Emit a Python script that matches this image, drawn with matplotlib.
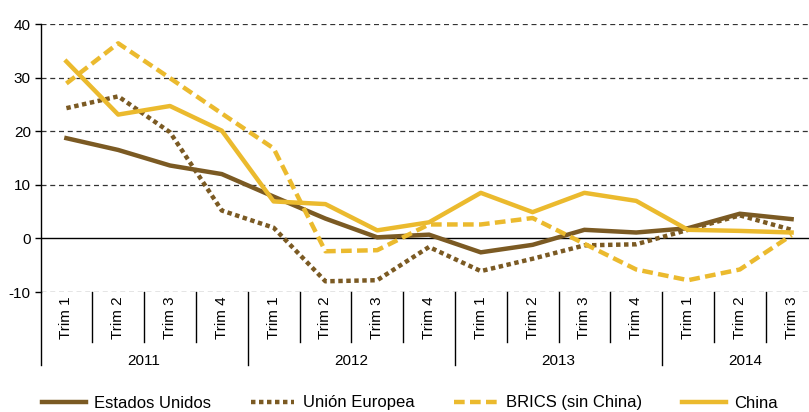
import matplotlib
matplotlib.use("Agg")
import matplotlib.pyplot as plt
import matplotlib.transforms as mtransforms

plt.rcParams['font.family'] = ['Liberation Sans', 'DejaVu Sans']
plt.rcParams['axes.unicode_minus'] = False

# data
years = ["2011", "2012", "2013", "2014"]
quarters = ["Trim 1", "Trim 2", "Trim 3", "Trim 4",
            "Trim 1", "Trim 2", "Trim 3", "Trim 4",
            "Trim 1", "Trim 2", "Trim 3", "Trim 4",
            "Trim 1", "Trim 2", "Trim 3"]
estados_unidos = [18.7, 16.5, 13.6, 12.0, 7.8, 3.7, 0.2, 0.7, -2.6, -1.2, 1.6, 1.1, 1.9, 4.6, 3.6]
union_europea = [24.3, 26.5, 19.8, 5.2, 2.0, -8.0, -7.8, -1.6, -6.1, -3.8, -1.3, -1.1, 1.6, 4.3, 1.6]
brics = [28.9, 36.4, 29.9, 23.3, 16.8, -2.4, -2.2, 2.6, 2.6, 3.8, -1.0, -5.8, -7.8, -5.8, 0.6]
china = [33.0, 23.1, 24.7, 20.1, 6.9, 6.4, 1.5, 3.0, 8.5, 4.9, 8.5, 7.0, 1.6, 1.4, 1.1]
y_ticks = [-10, 0, 10, 20, 30, 40]

brown = "#7B5A23"
yellow = "#EBBA2E"

fig = plt.figure(figsize=(8.09, 4.12), dpi=100)
ax = fig.add_axes([40.5 / 809, 120 / 412, 777 / 809, 268 / 412])

x = list(range(len(quarters)))

# grid lines
for v in y_ticks:
    if v == 0:
        ax.axhline(v, color="black", lw=1.0, zorder=1)
    else:
        ax.axhline(v, color="#333333", lw=0.9, ls=(0, (4, 3)), zorder=1)

ax.plot(x, estados_unidos, color=brown, lw=3.2, solid_joinstyle="miter",
        label="Estados Unidos", zorder=3)
ax.plot(x, union_europea, color=brown, lw=3.2, ls=(0, (1, 0.8)),
        dash_capstyle="butt", label="Unión Europea", zorder=3)
ax.plot(x, brics, color=yellow, lw=3.2, ls=(0, (2.4, 1.2)),
        dash_capstyle="butt", label="BRICS (sin China)", zorder=3)
ax.plot(x, china, color=yellow, lw=3.2, label="China", zorder=4)

ax.set_xlim(-0.5, len(quarters) - 0.5)
ax.set_ylim(-10, 40)
ax.set_yticks(y_ticks)
ax.set_xticks([])
ax.tick_params(axis="y", length=4, width=1, pad=3, labelsize=11)

for s in ["top", "right", "bottom"]:
    ax.spines[s].set_visible(False)
ax.spines["left"].set_linewidth(1.0)

# category axis drawn below the plot
trans = mtransforms.blended_transform_factory(ax.transData, ax.transAxes)
for i in range(1, len(quarters)):
    if i % 4 == 0:
        ax.plot([i - 0.5, i - 0.5], [0, -0.272], transform=trans, color="black",
                lw=1.0, clip_on=False)
    else:
        ax.plot([i - 0.5, i - 0.5], [0, -0.187], transform=trans, color="black",
                lw=1.0, clip_on=False)
ax.plot([-0.5, -0.5], [0, -0.272], transform=trans, color="black", lw=1.0, clip_on=False)

for i, q in enumerate(quarters):
    ax.text(i, -0.097, q, transform=trans, rotation=90, ha="center", va="center",
            fontsize=11)

year_centers = [1.5, 5.5, 9.5, 13.1]
for xc, yr in zip(year_centers, years):
    ax.text(xc, -0.257, yr, transform=trans, ha="center", va="center", fontsize=11)

fig.legend(loc="center", bbox_to_anchor=(410 / 809, 9 / 412), ncol=4, frameon=False,
           handlelength=2.6, columnspacing=2.4, handletextpad=0.5,
           prop={"size": 12})

fig.savefig("out.png", dpi=100)
